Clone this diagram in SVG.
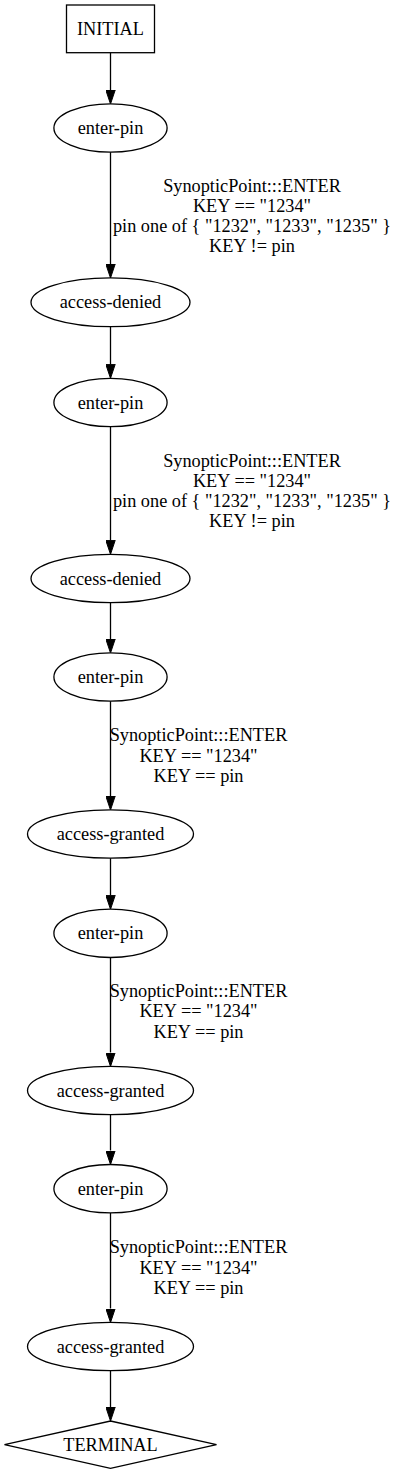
<svg xmlns="http://www.w3.org/2000/svg" width="400" height="1475" viewBox="0 0 400 1475">
<style>
text{font-family:"Liberation Serif","Times New Roman",serif;font-size:18.3px;fill:#000;text-anchor:middle}
.n{fill:#fff;stroke:#000;stroke-width:1.3}
.e{fill:none;stroke:#000;stroke-width:1.3}
</style>
<defs>
<marker id="ah" viewBox="0 0 14 10" refX="0" refY="5" markerWidth="14" markerHeight="10" markerUnits="userSpaceOnUse" orient="auto">
<path d="M0,0.3 L14,5 L0,9.7 z" fill="#000" stroke="#000" stroke-width="1"/>
</marker>
</defs>
<rect width="400" height="1475" fill="#fff"/>
<g id="edges">
<path class="e" d="M110.5,53 V90" marker-end="url(#ah)"/>
<path class="e" d="M110.5,152 V264" marker-end="url(#ah)"/>
<g>
<text x="252" y="191.5">SynopticPoint:::ENTER</text>
<text x="252" y="211.7">KEY == "1234"</text>
<text x="252" y="231.9">pin one of { "1232", "1233", "1235" }</text>
<text x="252" y="252.1">KEY != pin</text>
</g>
<path class="e" d="M110.5,326.5 V364.3" marker-end="url(#ah)"/>
<path class="e" d="M110.5,426.7 V540.3" marker-end="url(#ah)"/>
<g>
<text x="252" y="466.7">SynopticPoint:::ENTER</text>
<text x="252" y="486.9">KEY == "1234"</text>
<text x="252" y="507.1">pin one of { "1232", "1233", "1235" }</text>
<text x="252" y="527.3">KEY != pin</text>
</g>
<path class="e" d="M110.5,602.7 V639" marker-end="url(#ah)"/>
<path class="e" d="M110.5,701 V796" marker-end="url(#ah)"/>
<g>
<text x="198.5" y="741">SynopticPoint:::ENTER</text>
<text x="198.5" y="761.5">KEY == "1234"</text>
<text x="198.5" y="782">KEY == pin</text>
</g>
<path class="e" d="M110.5,858 V895.3" marker-end="url(#ah)"/>
<path class="e" d="M110.5,957.5 V1052.5" marker-end="url(#ah)"/>
<g>
<text x="198.5" y="996.7">SynopticPoint:::ENTER</text>
<text x="198.5" y="1017.2">KEY == "1234"</text>
<text x="198.5" y="1037.7">KEY == pin</text>
</g>
<path class="e" d="M110.5,1114.5 V1150.5" marker-end="url(#ah)"/>
<path class="e" d="M110.5,1213 V1308.5" marker-end="url(#ah)"/>
<g>
<text x="198.5" y="1253.3">SynopticPoint:::ENTER</text>
<text x="198.5" y="1273.8">KEY == "1234"</text>
<text x="198.5" y="1294.3">KEY == pin</text>
</g>
<path class="e" d="M110.5,1370.7 V1407" marker-end="url(#ah)"/>
</g>
<g id="initial"><rect class="n" x="66.5" y="5" width="88" height="47.7"/><text x="110.5" y="34.5">INITIAL</text></g>
<g id="enter-pin-1"><ellipse class="n" cx="110.5" cy="128" rx="56.6" ry="24.2"/><text x="110.5" y="134">enter-pin</text></g>
<g id="access-denied-1"><ellipse class="n" cx="110.5" cy="302.3" rx="79.5" ry="24.4"/><text x="110.5" y="308.3">access-denied</text></g>
<g id="enter-pin-2"><ellipse class="n" cx="110.5" cy="402.5" rx="56.6" ry="24.2"/><text x="110.5" y="408.5">enter-pin</text></g>
<g id="access-denied-2"><ellipse class="n" cx="110.5" cy="578.5" rx="79.5" ry="24.2"/><text x="110.5" y="584.5">access-denied</text></g>
<g id="enter-pin-3"><ellipse class="n" cx="110.5" cy="677" rx="56.6" ry="24.2"/><text x="110.5" y="683">enter-pin</text></g>
<g id="access-granted-1"><ellipse class="n" cx="110.5" cy="834" rx="83" ry="24.2"/><text x="110.5" y="840">access-granted</text></g>
<g id="enter-pin-4"><ellipse class="n" cx="110.5" cy="933.3" rx="56.6" ry="24.2"/><text x="110.5" y="939.3">enter-pin</text></g>
<g id="access-granted-2"><ellipse class="n" cx="110.5" cy="1090.5" rx="83" ry="24.2"/><text x="110.5" y="1096.5">access-granted</text></g>
<g id="enter-pin-5"><ellipse class="n" cx="110.5" cy="1188.7" rx="56.6" ry="24.2"/><text x="110.5" y="1194.7">enter-pin</text></g>
<g id="access-granted-3"><ellipse class="n" cx="110.5" cy="1346.5" rx="83" ry="24.2"/><text x="110.5" y="1352.5">access-granted</text></g>
<g id="terminal"><polygon class="n" points="110.5,1421 216.5,1444.7 110.5,1468.4 4.5,1444.7"/><text x="110.5" y="1450.7">TERMINAL</text></g>
</svg>
